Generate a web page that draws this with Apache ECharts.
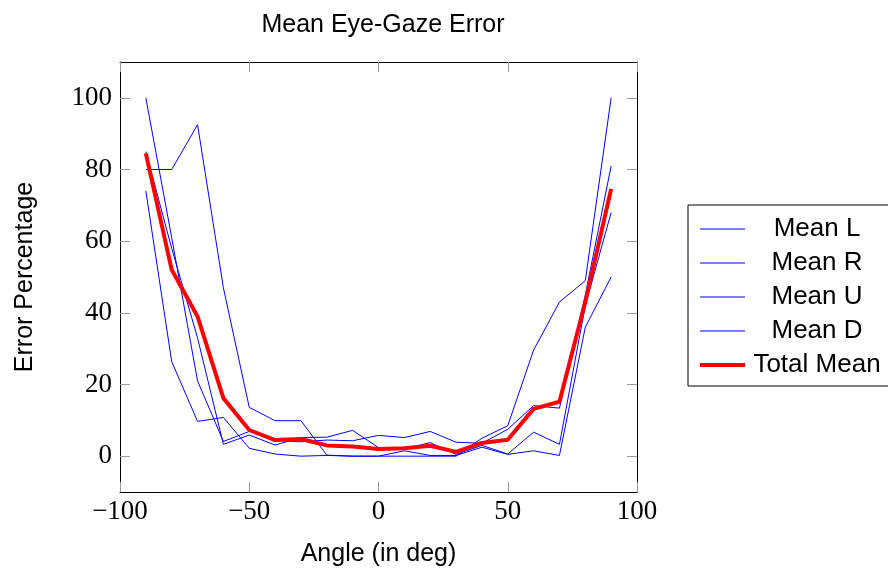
<!DOCTYPE html>
<html>
<head>
<meta charset="utf-8">
<script src="https://cdn.jsdelivr.net/npm/echarts@6/dist/echarts.min.js"></script>
<style>
  html, body { margin: 0; padding: 0; background: #fff; }
  #main { width: 888px; height: 572px; }
</style>
</head>
<body>
<div id="main"></div>
<script>
// angle in degrees
var angles = [-90, -80, -70, -60, -50, -40, -30, -20, -10, 0, 10, 20, 30, 40, 50, 60, 70, 80, 90];
var meanL = [100, 61, 21, 4.1, 6.9, 4.4, 4.0, 4.5, 4.3, 5.8, 5.2, 6.9, 3.9, 3.6, 7.5, 14.1, 13.4, 45, 81];
var meanR = [85, 58, 33, 3.3, 5.9, 3.1, 5.2, 5.3, 7.2, 2.4, 2.0, 3.8, 0.5, 3.0, 0.6, 6.7, 3.3, 42, 68];
var meanU = [80, 80, 92.5, 47, 13.6, 9.9, 9.9, 0.3, 0, 0, 0, 0, 0, 5.0, 8.5, 29.6, 43, 49, 100];
var meanD = [74, 26.4, 9.7, 10.8, 2.2, 0.6, 0, 0.2, 0, 0, 1.5, 0.2, 0.2, 2.5, 0.5, 1.5, 0.2, 36, 50];
var totalMean = [84.5, 52, 39, 16.2, 7.3, 4.5, 4.8, 3.0, 2.7, 2.0, 2.2, 2.9, 1.2, 3.7, 4.6, 13.2, 15.2, 43, 74.6];
var yTicks = [0, 20, 40, 60, 80, 100];

var serif = 'Liberation Serif';
var sans = 'Liberation Sans';

function pairs(arr) {
  return arr.map(function (v, i) { return [angles[i], v]; });
}
function minus(v) {
  return String(v).replace('-', '\u2212');
}

var chart = echarts.init(document.getElementById('main'));

function blueLine(name, data) {
  return {
    name: name,
    type: 'line',
    data: pairs(data),
    symbol: 'none',
    lineStyle: { color: '#0000ff', width: 1 },
    itemStyle: { color: '#0000ff' }
  };
}

var options = {
  animation: false,
  title: {
    text: 'Mean Eye-Gaze Error',
    left: 378,
    textAlign: 'center',
    top: 8,
    textStyle: { fontFamily: sans, fontSize: 25, fontWeight: 'normal', color: '#000' }
  },
  grid: { left: 120, right: 251, top: 62, bottom: 79 },
  legend: {
    orient: 'vertical',
    left: 688,
    top: 205,
    backgroundColor: '#fff',
    borderColor: '#000',
    borderWidth: 1,
    borderRadius: 0,
    padding: [11, 10, 8, 10],
    itemWidth: 45,
    itemHeight: 14,
    itemGap: 8,
    itemStyle: { opacity: 0 },
    lineStyle: { width: 'inherit' },
    formatter: function (name) { return '{c|' + name + '}'; },
    textStyle: {
      fontFamily: sans, fontSize: 26, color: '#000',
      rich: { c: { fontFamily: sans, fontSize: 26, color: '#000', width: 134, align: 'center' } }
    },
    data: ['Mean L', 'Mean R', 'Mean U', 'Mean D', 'Total Mean']
  },
  xAxis: [{
    type: 'value',
    min: -100,
    max: 100,
    interval: 50,
    name: 'Angle (in deg)',
    nameLocation: 'middle',
    nameGap: 50,
    nameTextStyle: { fontFamily: sans, fontSize: 25, color: '#000' },
    axisLine: { onZero: false, lineStyle: { color: '#000', width: 1 } },
    axisTick: { inside: true, length: 10, lineStyle: { color: '#999' } },
    axisLabel: { fontFamily: serif, fontSize: 27, color: '#000', margin: 6, formatter: minus },
    splitLine: { show: false }
  }, {
    type: 'value',
    position: 'top',
    min: -100,
    max: 100,
    interval: 50,
    axisLine: { onZero: false, lineStyle: { color: '#000', width: 1 } },
    axisTick: { inside: true, length: 10, lineStyle: { color: '#999' } },
    axisLabel: { show: false },
    splitLine: { show: false }
  }],
  yAxis: [{
    type: 'value',
    min: -10,
    max: 110,
    name: 'Error Percentage',
    nameLocation: 'middle',
    nameGap: 82,
    nameTextStyle: { fontFamily: sans, fontSize: 25, color: '#000' },
    axisLine: { show: true, onZero: false, lineStyle: { color: '#000', width: 1 } },
    axisTick: { show: true, inside: true, length: 10, customValues: yTicks, lineStyle: { color: '#999' } },
    axisLabel: { fontFamily: serif, fontSize: 27, color: '#000', margin: 8, customValues: yTicks },
    splitLine: { show: false }
  }, {
    type: 'value',
    position: 'right',
    min: -10,
    max: 110,
    axisLine: { show: true, onZero: false, lineStyle: { color: '#000', width: 1 } },
    axisTick: { show: true, inside: true, length: 10, customValues: yTicks, lineStyle: { color: '#999' } },
    axisLabel: { show: false },
    splitLine: { show: false }
  }],
  series: [
    blueLine('Mean L', meanL),
    blueLine('Mean R', meanR),
    blueLine('Mean U', meanU),
    blueLine('Mean D', meanD),
    {
      name: 'Total Mean',
      type: 'line',
      data: pairs(totalMean),
      symbol: 'none',
      z: 5,
      lineStyle: { color: '#ff0000', width: 4 },
      itemStyle: { color: '#ff0000' }
    }
  ]
};

chart.setOption(options);
</script>
</body>
</html>
